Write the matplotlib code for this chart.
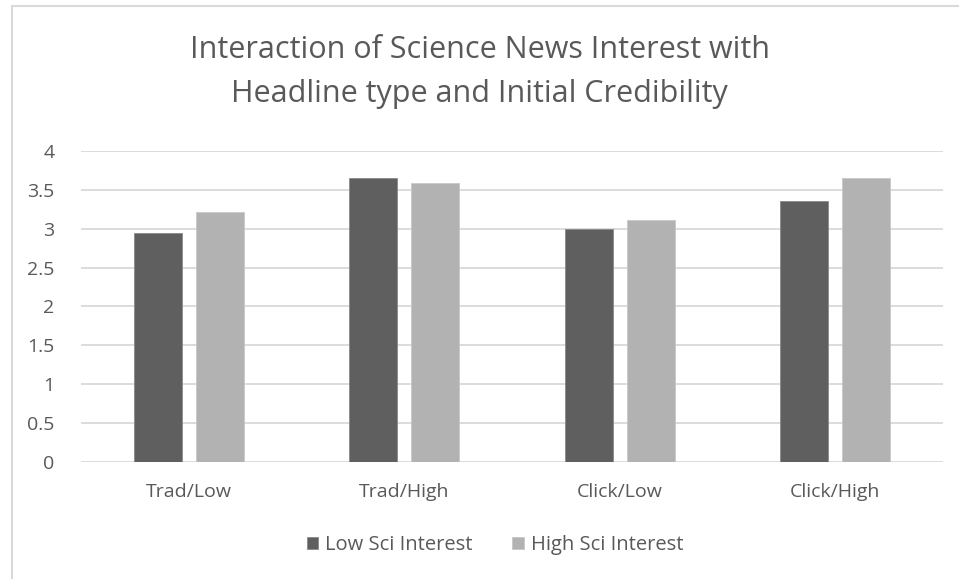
import matplotlib.pyplot as plt
import numpy as np
from matplotlib.patches import Rectangle

plt.rcParams['font.family'] = ['Open Sans', 'DejaVu Sans']

# Mean credibility by condition
conditions = ['Trad/Low', 'Trad/High', 'Click/Low', 'Click/High']
low_interest = [2.95, 3.65, 3.00, 3.36]
high_interest = [3.21, 3.59, 3.11, 3.65]
series_names = ['Low Sci Interest', 'High Sci Interest']

text_color = '#595959'
fig = plt.figure(figsize=(9.59, 5.79), dpi=100)
ax = fig.add_axes([0.0845, 0.2026, 0.8985, 0.5364])

x = np.arange(len(conditions))
w = 0.223
gap = 0.065
ax.bar(x - (w + gap) / 2, low_interest, w, color='#5f5f5f', edgecolor='#8a8a8a',
       linewidth=0.6, label=series_names[0], zorder=3)
ax.bar(x + (w + gap) / 2, high_interest, w, color='#b2b2b2', edgecolor='#c8c8c8',
       linewidth=0.6, label=series_names[1], zorder=3)

ax.set_xlim(-0.5, 3.5)
ax.set_ylim(0, 4)
ax.set_yticks(np.arange(0, 4.01, 0.5))
ax.set_yticklabels(['0', '0.5', '1', '1.5', '2', '2.5', '3', '3.5', '4'])
ax.set_xticks(x)
ax.set_xticklabels(conditions)
ax.tick_params(length=0, labelsize=14, colors=text_color)
ax.tick_params(axis='y', pad=19)
ax.tick_params(axis='x', pad=15)
ax.yaxis.grid(True, color='#d9d9d9', linewidth=1.3, zorder=0)
for s in ax.spines.values():
    s.set_visible(False)

# title on two lines
fig.text(0.5, 0.9, 'Interaction of Science News Interest with', ha='center',
         va='baseline', fontsize=22, color=text_color)
fig.text(0.5, 0.824, 'Headline type and Initial Credibility', ha='center',
         va='baseline', fontsize=22, color=text_color)

leg = fig.legend(loc='center', bbox_to_anchor=(0.516, 0.059), ncol=2, frameon=False,
                 fontsize=14.5, handlelength=0.55, handleheight=0.55, handletextpad=0.35,
                 columnspacing=2.0)
for t in leg.get_texts():
    t.set_color(text_color)

# chart frame
fig.patches.append(Rectangle((12 / 959, -0.05), 1.0, 1.05 - 6 / 579,
                             transform=fig.transFigure, fill=False,
                             edgecolor='#d9d9d9', linewidth=1.5))

fig.savefig('out.png', dpi=100)
